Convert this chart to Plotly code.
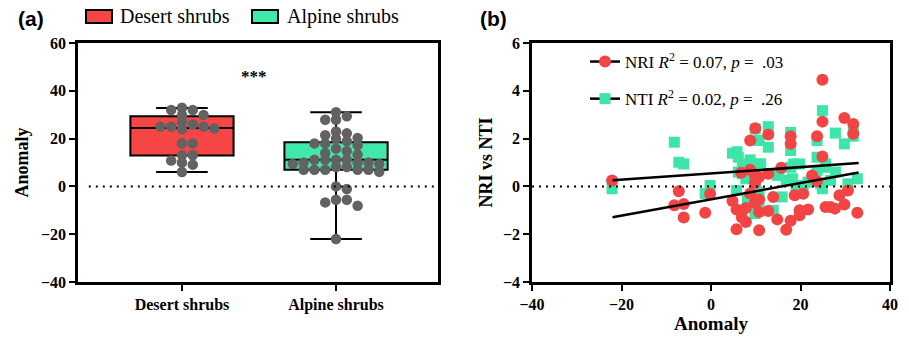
import plotly.graph_objects as go
import numpy as np

# ---------------- data ----------------
groups = ["Desert shrubs", "Alpine shrubs"]
desert_anomaly = [32.9, 32.0, 29.9, 29.9, 32.0, 25.9, 25.0, 23.9, 24.2, 25.0,
                  25.0, 27.0, 18.0, 18.0, 13.0, 13.0, 10.0, 10.8, 9.1, 6.0]
alpine_anomaly = [31.0, 27.9, 27.9, 29.3, 23.0, 21.4, 20.0, 20.3, 22.2, 18.9,
                  18.0, 15.8, 14.7, 17.2, 18.0, 14.0, 13.3, 11.1, 11.1, 10.0,
                  10.0, 10.0, 11.1, 11.1, 9.4, 9.4, 8.1, 7.0, 7.0, 6.1,
                  7.0, 7.0, 7.0, 8.1, -1.1, 0.0, -5.6, -6.7, -8.1, -5.6, -22.0]
box_q1 = [12.9, 7.0]
box_median = [24.4, 11.1]
box_q3 = [29.3, 18.5]
box_low = [6.0, -22.0]
box_high = [32.8, 31.0]

nri_x = [9.9, 8.75, 12.8, 17.8, 17.8, 24.9, 24.9, 23.7, 24.9, 29.8, 31.8, 31.8,
         -22.1, -7.2, -8.2, -6.1, -6.1, -1.3, -0.2, 6.75, 8.75, 9.8, 10.75, 9.8,
         12.8, 15.7, 8.75, 4.8, 5.7, 6.9, 7.8, 6.9, 7.8, 5.7, 9.8, 10.75, 10.75,
         10.75, 13.9, 12.8, 14.8, 16.8, 17.8, 18.7, 19.8, 19.8, 20.6, 21.7, 22.6,
         23.7, 25.6, 26.7, 27.7, 28.7, 29.8, 30.6, 32.7]
nri_y = [2.43, 1.92, 2.17, 2.10, 1.78, 4.46, 2.71, 2.10, 1.25, 2.86, 2.61, 2.20,
         0.25, -0.20, -0.79, -0.74, -1.30, -1.10, -0.32, 0.57, 0.70, 0.46, 0.39, 0.14,
         0.53, 0.78, -0.30, -0.61, -0.97, -1.00, -0.90, -1.30, -1.49, -1.79, -0.70, -0.55, -1.07,
         -1.83, -0.44, -1.03, -1.38, -1.81, -1.44, -0.37, -1.00, -1.21, -0.31, -0.97, 0.46,
         0.22, -0.86, -0.86, -0.93, -0.37, -0.76, -0.17, -1.10]

nti_x = [-22.1, -8.2, -7.2, -6.1, -1.3, -0.2, 4.8, 6.1, 7.0, 8.75, 9.9, 10.75,
         12.8, 12.8, 17.8, 17.8, 18.5, 19.8, 23.7, 23.7, 24.9, 25.6, 27.8, 29.8,
         31.8, 5.7, 7.8, 9.8, 10.75, 9.8, 10.75, 13.9, 15.9, 14.8, 16.8, 18.2,
         20.6, 21.7, 23.7, 24.5, 25.6, 26.7, 27.8, 30.6, 32.7, 5.8, 8.15, 7.0,
         11.1, 31.8, 17.8, 10.0, 19.0, 6.1, 15.2, 24.9]
nti_y = [-0.10, 1.85, 1.01, 0.94, -0.30, 0.04, 1.39, 1.22, 0.94, 1.11, 2.40, 1.92,
         2.50, 1.64, 2.26, 1.50, 0.94, 0.94, 1.92, 1.22, 3.17, 0.94, 2.23, 1.78,
         2.10, -0.17, 0.32, 0.83, -0.24, -1.14, -0.72, -1.00, -0.44, 0.46, 0.25, 0.32,
         0.04, 0.18, 0.67, 0.11, 0.80, 0.25, 0.60, 0.11, 0.32, 1.45, -0.50, 0.53,
         0.95, 2.33, 0.80, 0.20, 0.00, 0.60, 0.46, -0.10]

# regression fits (intercept, slope) and x-span
nri_fit = (-0.542, 0.034)
nti_fit = (0.542, 0.0131)
fit_span = [-22.0, 33.0]

# ---------------- figure geometry ----------------
W, H = 909, 337
ML, MR, MT, MB = 78, 19, 43, 55
plot_w = W - ML - MR
plot_h = H - MT - MB
dom_a = [0.0, 360 / plot_w]
dom_b = [(532 - ML) / plot_w, 1.0]

RED_BOX = "#F54545"
GREEN_BOX = "#40E8AA"
RED_PT = "#F24444"
GREEN_PT = "#3DE6A8"
GRAY = "#626262"

xa_range = [-0.675, 1.662]
ya_range = [-40, 60]
px_per_x = (dom_a[1] - dom_a[0]) * plot_w / (xa_range[1] - xa_range[0])
px_per_y = plot_h / (ya_range[1] - ya_range[0])


def swarm(values, diam):
    """Greedy row-style swarm offsets (in x data units)."""
    order = sorted(range(len(values)), key=lambda i: -values[i])
    placed = []
    offs = [0.0] * len(values)
    cands = [0.0]
    for k in range(1, 14):
        cands += [k * diam / 2, -k * diam / 2]
    for i in order:
        yp = values[i] * px_per_y
        for c in cands:
            ok = True
            for (xq, yq) in placed:
                if abs(c - xq) < diam * 0.95 and abs(yp - yq) < diam * 0.62:
                    ok = False
                    break
            if ok:
                placed.append((c, yp))
                offs[i] = c / px_per_x
                break
    return offs


fig = go.Figure()

fills = [RED_BOX, GREEN_BOX]
for i, g in enumerate(groups):
    fig.add_trace(go.Box(
        x=[i], q1=[box_q1[i]], median=[box_median[i]], q3=[box_q3[i]],
        lowerfence=[box_low[i]], upperfence=[box_high[i]],
        width=0.67, whiskerwidth=0.5, fillcolor=fills[i],
        line=dict(color="black", width=2), boxpoints=False,
        showlegend=False, xaxis="x", yaxis="y", hoverinfo="skip"))

for i, vals in enumerate([desert_anomaly, alpine_anomaly]):
    offs = swarm(vals, 10.8)
    fig.add_trace(go.Scatter(
        x=[i + o for o in offs], y=vals, mode="markers",
        marker=dict(color=GRAY, size=10.5, line=dict(width=0)),
        showlegend=False, xaxis="x", yaxis="y"))

# panel b
fig.add_trace(go.Scatter(x=nti_x, y=nti_y, mode="markers",
                         marker=dict(symbol="square", color=GREEN_PT, size=11),
                         showlegend=False, xaxis="x2", yaxis="y2"))
fig.add_trace(go.Scatter(x=nri_x, y=nri_y, mode="markers",
                         marker=dict(symbol="circle", color=RED_PT, size=12),
                         showlegend=False, xaxis="x2", yaxis="y2"))
for fit in (nri_fit, nti_fit):
    xs = np.array(fit_span)
    fig.add_trace(go.Scatter(x=xs, y=fit[0] + fit[1] * xs, mode="lines",
                             line=dict(color="black", width=2.5),
                             showlegend=False, xaxis="x2", yaxis="y2"))

# legend-only entries for panel b
fig.add_trace(go.Scatter(x=[None], y=[None], mode="lines+markers",
                         name="NRI <i>R</i><sup>2</sup> = 0.07, <i>p</i> =  .03",
                         line=dict(color="black", width=2.5),
                         marker=dict(symbol="circle", color=RED_PT, size=12),
                         legendgroup="nri", xaxis="x2", yaxis="y2"))
fig.add_trace(go.Scatter(x=[None], y=[None], mode="lines+markers",
                         name="NTI <i>R</i><sup>2</sup> = 0.02, <i>p</i> =  .26",
                         line=dict(color="black", width=2.5),
                         marker=dict(symbol="square", color=GREEN_PT, size=11),
                         legendgroup="nti", xaxis="x2", yaxis="y2"))

tickfont = dict(family="Liberation Serif", size=16, color="black", weight="bold")
titlefont = dict(family="Liberation Serif", size=18, color="black", weight="bold")
axis_common = dict(showline=True, linecolor="black", linewidth=2.5, mirror=True,
                   ticks="outside", ticklen=6, tickwidth=2, tickcolor="black",
                   showgrid=False, zeroline=False, tickfont=tickfont,
                   automargin=False)

fig.update_layout(
    width=W, height=H,
    margin=dict(l=ML, r=MR, t=MT, b=MB, autoexpand=False),
    paper_bgcolor="white", plot_bgcolor="white",
    xaxis=dict(domain=dom_a, range=xa_range, tickvals=[0, 1], ticktext=groups,
               **axis_common),
    yaxis=dict(range=ya_range, tickvals=[-40, -20, 0, 20, 40, 60],
               title=dict(text="Anomaly", font=titlefont, standoff=8),
               **axis_common),
    xaxis2=dict(domain=dom_b, range=[-40, 40], tickvals=[-40, -20, 0, 20, 40],
                anchor="y2",
                title=dict(text="Anomaly", font=dict(titlefont, size=19), standoff=2),
                **axis_common),
    yaxis2=dict(range=[-4, 6], tickvals=[-4, -2, 0, 2, 4, 6], anchor="x2",
                title=dict(text="NRI vs NTI", font=titlefont, standoff=6),
                **axis_common),
    legend=dict(x=(585 - ML) / plot_w, y=(H - MB - 44) / plot_h,
                xanchor="left", yanchor="top", bgcolor="rgba(0,0,0,0)",
                font=dict(family="Liberation Serif", size=17, color="black"),
                traceorder="grouped", tracegroupgap=12, itemwidth=30),
    shapes=[
        dict(type="line", xref="x domain", yref="y", x0=0.03, x1=0.99, y0=0, y1=0,
             line=dict(color="black", width=2, dash="2px,5px")),
        dict(type="line", xref="x2 domain", yref="y2", x0=0.0, x1=1.0, y0=0, y1=0,
             line=dict(color="black", width=2, dash="2px,5px")),
        dict(type="rect", xref="paper", yref="paper",
             x0=(86 - ML) / plot_w, x1=(112 - ML) / plot_w,
             y0=(H - MB - 23) / plot_h, y1=(H - MB - 10) / plot_h,
             fillcolor=RED_BOX, line=dict(color="black", width=2)),
        dict(type="rect", xref="paper", yref="paper",
             x0=(252 - ML) / plot_w, x1=(278 - ML) / plot_w,
             y0=(H - MB - 23) / plot_h, y1=(H - MB - 10) / plot_h,
             fillcolor=GREEN_BOX, line=dict(color="black", width=2)),
    ],
    annotations=[
        dict(text="Desert shrubs", xref="paper", yref="paper",
             x=(118 - ML) / plot_w, y=(H - MB - 16) / plot_h, xanchor="left",
             yanchor="middle", showarrow=False,
             font=dict(family="Liberation Serif", size=20, color="black")),
        dict(text="Alpine shrubs", xref="paper", yref="paper",
             x=(285 - ML) / plot_w, y=(H - MB - 16) / plot_h, xanchor="left",
             yanchor="middle", showarrow=False,
             font=dict(family="Liberation Serif", size=20, color="black")),
        dict(text="(a)", xref="paper", yref="paper",
             x=(16 - ML) / plot_w, y=(H - MB - 19) / plot_h, xanchor="left",
             yanchor="middle", showarrow=False,
             font=dict(family="Liberation Sans", size=21, color="black", weight="bold")),
        dict(text="(b)", xref="paper", yref="paper",
             x=(478 - ML) / plot_w, y=(H - MB - 19) / plot_h, xanchor="left",
             yanchor="middle", showarrow=False,
             font=dict(family="Liberation Sans", size=21, color="black", weight="bold")),
        dict(text="***", xref="x", yref="y", x=0.47, y=46.0, showarrow=False,
             font=dict(family="Liberation Serif", size=17, color="black", weight="bold")),
    ],
)

fig.write_html("out.html",
               config={"displayModeBar": False},
               post_script="document.body.style.margin='0';"
                           "document.body.style.padding='0';"
                           "document.body.style.overflow='hidden';")
